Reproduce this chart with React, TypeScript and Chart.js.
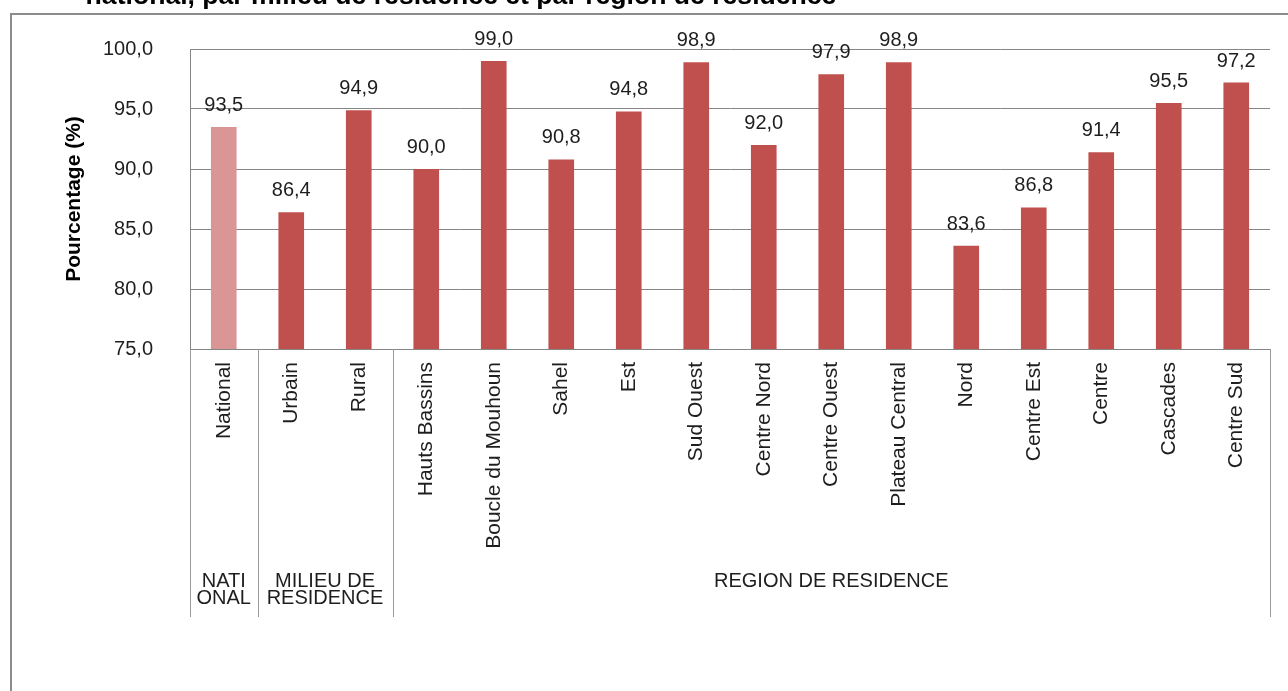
import React, { useEffect, useRef } from 'react';
import { Chart, registerables } from 'chart.js';

Chart.register(...registerables);

// Categories on the x axis (first level of labels)
const categories = [
  'National',
  'Urbain',
  'Rural',
  'Hauts Bassins',
  'Boucle du Mouhoun',
  'Sahel',
  'Est',
  'Sud Ouest',
  'Centre Nord',
  'Centre Ouest',
  'Plateau Central',
  'Nord',
  'Centre Est',
  'Centre',
  'Cascades',
  'Centre Sud',
];

// Percentage per category
const values = [93.5, 86.4, 94.9, 90.0, 99.0, 90.8, 94.8, 98.9, 92.0, 97.9, 98.9, 83.6, 86.8, 91.4, 95.5, 97.2];

// Second level of x labels: group name lines and the category index range they span
const groupLines = [['NATI', 'ONAL'], ['MILIEU DE', 'RESIDENCE'], ['REGION DE RESIDENCE']];
const groupStart = [0, 1, 3];
const groupEnd = [1, 3, 16];

// Y axis tick values
const yTicks = [75, 80, 85, 90, 95, 100];

const yTitle = 'Pourcentage (%)';
const chartTitle = 'national, par milieu de résidence et par région de résidence';

const FONT = "'Liberation Sans', Arial, sans-serif";
const TEXT = '#1e1e1e';
const GRID = '#868686';
const BAR = '#C0504D';
const BAR_NATIONAL = '#D99694';

const fmt = (v: number) => v.toFixed(1).replace('.', ',');

const decorPlugin = {
  id: 'decor',
  beforeDraw(chart: any) {
    const ctx = chart.ctx;
    ctx.save();
    // outer frame
    ctx.strokeStyle = '#8c8c8c';
    ctx.lineWidth = 2;
    ctx.beginPath();
    ctx.moveTo(11, chart.height);
    ctx.lineTo(11, 14);
    ctx.lineTo(chart.width, 14);
    ctx.stroke();
    // heading, partly cut at the top edge
    ctx.fillStyle = '#000';
    ctx.font = `bold 26.6px ${FONT}`;
    ctx.textAlign = 'center';
    ctx.textBaseline = 'alphabetic';
    ctx.fillText(chartTitle, 461, 4);
    ctx.restore();
  },
  afterDraw(chart: any) {
    const ctx = chart.ctx;
    const xs = chart.scales.x;
    const area = chart.chartArea;
    const bottom = 617;
    const edge = (i: number) => xs.getPixelForValue(i - 0.5);
    ctx.save();
    // group separators below the axis
    ctx.strokeStyle = '#9a9a9a';
    ctx.lineWidth = 1;
    const bounds = new Set<number>();
    groupStart.forEach((s, k) => {
      bounds.add(s);
      bounds.add(groupEnd[k]);
    });
    bounds.forEach((i) => {
      const x = Math.round(edge(i)) + 0.5;
      ctx.beginPath();
      ctx.moveTo(x, area.bottom);
      ctx.lineTo(x, bottom);
      ctx.stroke();
    });
    // group labels
    ctx.fillStyle = TEXT;
    ctx.font = `20px ${FONT}`;
    ctx.textAlign = 'center';
    ctx.textBaseline = 'alphabetic';
    groupLines.forEach((lines, k) => {
      const cx = (edge(groupStart[k]) + edge(groupEnd[k])) / 2;
      lines.forEach((t, j) => ctx.fillText(t, cx, 587 + j * 17));
    });
    ctx.restore();
  },
  afterDatasetsDraw(chart: any) {
    const ctx = chart.ctx;
    const meta = chart.getDatasetMeta(0);
    ctx.save();
    ctx.fillStyle = TEXT;
    ctx.font = `20px ${FONT}`;
    ctx.textAlign = 'center';
    ctx.textBaseline = 'alphabetic';
    meta.data.forEach((bar: any, i: number) => {
      ctx.fillText(fmt(values[i]), bar.x, bar.y - 16);
    });
    ctx.restore();
  },
};

export default function App() {
  const ref = useRef<HTMLCanvasElement | null>(null);

  useEffect(() => {
    if (!ref.current) return;
    const colors = categories.map((_, i) => (i < groupEnd[0] ? BAR_NATIONAL : BAR));
    const chart = new Chart(ref.current, {
      type: 'bar',
      data: {
        labels: categories,
        datasets: [
          {
            data: values,
            backgroundColor: colors,
            borderWidth: 0,
            barPercentage: 0.38,
            categoryPercentage: 1,
          },
        ],
      },
      plugins: [decorPlugin],
      options: {
        responsive: false,
        animation: false,
        devicePixelRatio: 1,
        layout: { padding: { top: 49, right: 18, left: 0, bottom: 0 } },
        plugins: {
          legend: { display: false },
          tooltip: { enabled: false },
        },
        scales: {
          x: {
            type: 'category',
            offset: true,
            grid: { display: false, drawTicks: false },
            border: { display: true, color: GRID, width: 1 },
            ticks: {
              autoSkip: false,
              minRotation: 90,
              maxRotation: 90,
              padding: 13,
              color: TEXT,
              font: { family: FONT, size: 21 },
            },
            afterFit(scale: any) {
              scale.height = 342;
            },
          },
          y: {
            min: 75,
            max: 100,
            afterBuildTicks(scale: any) {
              scale.ticks = yTicks.map((v) => ({ value: v }));
            },
            grid: { color: GRID, lineWidth: 1, drawTicks: false },
            border: { display: true, color: GRID, width: 1 },
            ticks: {
              padding: 37,
              color: TEXT,
              font: { family: FONT, size: 20 },
              callback: (v: any) => fmt(Number(v)),
            },
            title: {
              display: true,
              text: yTitle,
              color: '#000',
              font: { family: FONT, size: 21, weight: 'bold' },
              padding: { top: 62, bottom: 0 },
            },
            afterFit(scale: any) {
              scale.width = 190;
            },
          },
        },
      },
    } as any);
    return () => chart.destroy();
  }, []);

  return (
    <div style={{ position: 'absolute', left: 0, top: 0, width: 1288, height: 691, background: '#fff' }}>
      <canvas ref={ref} width={1288} height={691} style={{ display: 'block' }} />
    </div>
  );
}
